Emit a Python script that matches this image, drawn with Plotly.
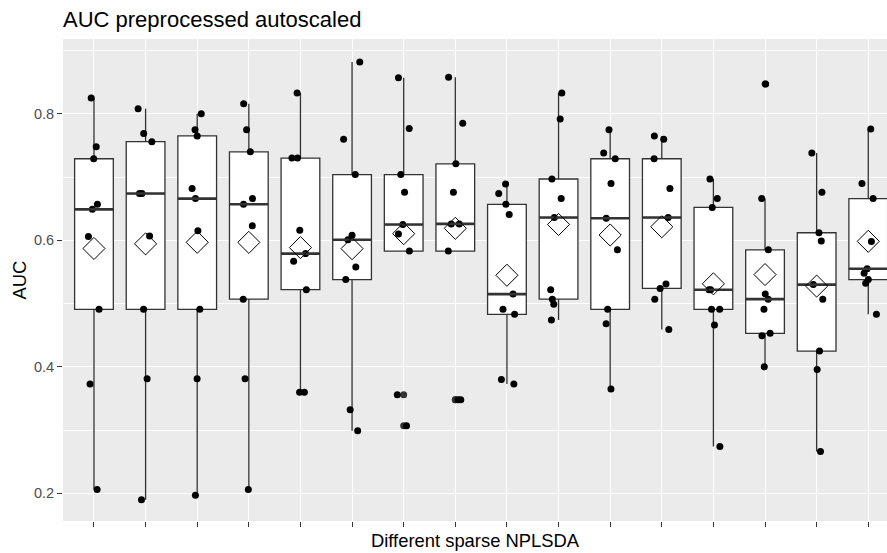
import numpy as np
import plotly.graph_objects as go

# AUC of each cross-validation run, one list per sparse NPLSDA model
m01 = [0.825, 0.748, 0.729, 0.657, 0.649, 0.606, 0.491, 0.373, 0.206]
m02 = [0.808, 0.769, 0.756, 0.674, 0.674, 0.607, 0.491, 0.381, 0.190]
m03 = [0.800, 0.775, 0.765, 0.682, 0.666, 0.615, 0.491, 0.381, 0.197]
m04 = [0.816, 0.775, 0.740, 0.666, 0.657, 0.623, 0.507, 0.381, 0.206]
m05 = [0.833, 0.730, 0.730, 0.616, 0.579, 0.567, 0.522, 0.360, 0.360]
m06 = [0.882, 0.760, 0.704, 0.608, 0.601, 0.558, 0.538, 0.332, 0.299]
m07 = [0.857, 0.777, 0.704, 0.676, 0.625, 0.610, 0.583, 0.356, 0.307]
m08 = [0.858, 0.785, 0.721, 0.676, 0.626, 0.626, 0.583, 0.348, 0.348]
m09 = [0.689, 0.674, 0.657, 0.641, 0.515, 0.491, 0.483, 0.380, 0.373]
m10 = [0.833, 0.792, 0.697, 0.666, 0.636, 0.522, 0.507, 0.499, 0.474]
m11 = [0.775, 0.738, 0.729, 0.690, 0.635, 0.585, 0.491, 0.468, 0.365]
m12 = [0.765, 0.760, 0.729, 0.682, 0.636, 0.531, 0.524, 0.507, 0.459]
m13 = [0.697, 0.666, 0.652, 0.522, 0.522, 0.491, 0.491, 0.466, 0.274]
m14 = [0.847, 0.666, 0.585, 0.515, 0.507, 0.491, 0.453, 0.449, 0.400]
m15 = [0.738, 0.676, 0.612, 0.599, 0.530, 0.507, 0.425, 0.396, 0.266]
m16 = [0.776, 0.690, 0.666, 0.598, 0.555, 0.548, 0.538, 0.532, 0.483]

groups = [m01, m02, m03, m04, m05, m06, m07, m08,
          m09, m10, m11, m12, m13, m14, m15, m16]
positions = list(range(1, len(groups) + 1))

y_ticks = [0.2, 0.4, 0.6, 0.8]

x_all = [p for p, g in zip(positions, groups) for _ in g]
y_all = [v for g in groups for v in g]

BOX_W = 0.75
INK = "#333333"
FONT = "Liberation Sans, Arial, Helvetica, sans-serif"
QMETHOD = "inclusive"   # same hinges as R's default quantile type for n = 9

fig = go.Figure()

# boxes, whiskers and outliers drawn on the centre line
fig.add_trace(go.Box(
    x=x_all, y=y_all, width=BOX_W,
    boxpoints="outliers", pointpos=0, jitter=0,
    quartilemethod=QMETHOD, whiskerwidth=0,
    fillcolor="white", line=dict(color=INK, width=1.3),
    marker=dict(color=INK, size=7, line=dict(width=0)),
    hoverinfo="skip", showlegend=False,
))

# every observation, jittered sideways
fig.add_trace(go.Box(
    x=x_all, y=y_all, width=BOX_W,
    boxpoints="all", pointpos=0, jitter=0.45,
    quartilemethod=QMETHOD, whiskerwidth=0,
    fillcolor="rgba(0,0,0,0)",
    line=dict(color="rgba(0,0,0,0)", width=0),
    marker=dict(color="black", size=7, line=dict(width=0)),
    hoverinfo="skip", showlegend=False,
))

# heavier median bar
medians = [float(np.median(g)) for g in groups]
mx, my = [], []
for p, m in zip(positions, medians):
    mx += [p - BOX_W / 2, p + BOX_W / 2, None]
    my += [m, m, None]
fig.add_trace(go.Scatter(
    x=mx, y=my, mode="lines",
    line=dict(color=INK, width=2.6),
    hoverinfo="skip", showlegend=False,
))

# group means as open diamonds
means = [float(np.mean(g)) for g in groups]
fig.add_trace(go.Scatter(
    x=positions, y=means, mode="markers",
    marker=dict(symbol="diamond-open", size=17, color="black",
                line=dict(width=1, color="black")),
    hoverinfo="skip", showlegend=False,
))

fig.update_layout(
    width=887, height=553,
    margin=dict(l=63, r=0, t=39, b=32),
    paper_bgcolor="white",
    plot_bgcolor="#EBEBEB",
    font=dict(family=FONT, color="black"),
    showlegend=False,
    boxmode="overlay",
    title=dict(
        text="AUC preprocessed autoscaled",
        font=dict(size=22, color="black", family=FONT),
        xref="paper", x=0, xanchor="left",
        yref="container", y=1 - 19 / 553, yanchor="middle",
    ),
    xaxis=dict(
        range=[0.4, 16.363],
        tickmode="array", tickvals=positions,
        showticklabels=False,
        ticks="outside", ticklen=5, tickwidth=1.1, tickcolor=INK,
        showgrid=True, gridcolor="white", gridwidth=1.2,
        zeroline=False, showline=False,
        title=dict(text="Different sparse NPLSDA",
                   font=dict(size=18.4, color="black"), standoff=8),
    ),
    yaxis=dict(
        range=[0.1563, 0.9183],
        tickmode="array", tickvals=y_ticks,
        ticktext=[f"{t:.1f}" for t in y_ticks],
        tickfont=dict(size=14.5, color="#4D4D4D"),
        ticks="outside", ticklen=5, tickwidth=1.1, tickcolor=INK,
        showgrid=True, gridcolor="white", gridwidth=1.2,
        minor=dict(tickmode="array", tickvals=[0.3, 0.5, 0.7, 0.9],
                   showgrid=True, gridcolor="white", gridwidth=0.6,
                   ticks=""),
        zeroline=False, showline=False,
        title=dict(text="AUC", font=dict(size=18.4, color="black"),
                   standoff=2),
    ),
)

fig.write_html("out.html")
